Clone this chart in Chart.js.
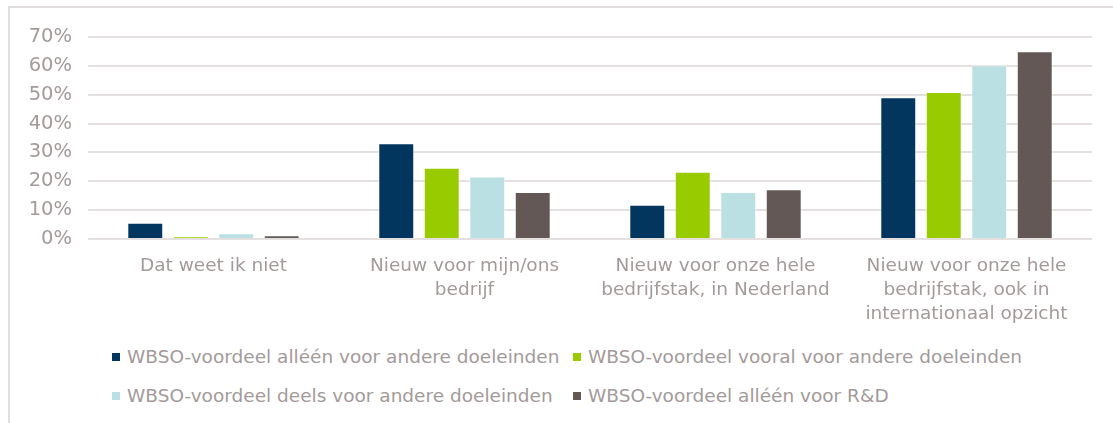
<!DOCTYPE html>
<html lang="nl">
<head>
<meta charset="utf-8">
<title>Nieuwheid van innovaties naar besteding WBSO-voordeel</title>
<script src="https://cdn.jsdelivr.net/npm/chart.js@4.4.1/dist/chart.umd.min.js"></script>
<style>
  html, body { margin: 0; padding: 0; background: #ffffff; overflow: hidden; }
  body { width: 1113px; height: 423px; position: relative; font-family: "DejaVu Sans", Verdana, sans-serif; }
  #frame {
    position: absolute; left: 8px; top: 6px; width: 1200px; height: 500px;
    border-top: 2px solid #e3dfdf; border-left: 2px solid #e3dfdf; box-sizing: border-box;
  }
  #chart { position: absolute; left: 0; top: 0; }
  #legend {
    position: absolute; left: 112px; top: 345px;
    display: grid; grid-template-columns: 461px auto; row-gap: 16px;
    font-size: 18.5px; color: #a39a99; line-height: 23px; white-space: nowrap;
  }
  .item { display: flex; align-items: center; }
  .box { width: 8px; height: 8px; margin-right: 7px; flex: none; }
</style>
</head>
<body>
<div id="frame"></div>
<canvas id="chart" width="1113" height="330"></canvas>
<div id="legend"></div>
<script>
// Categories (multi-line axis labels)
const categories = [
  ["Dat weet ik niet"],
  ["Nieuw voor mijn/ons", "bedrijf"],
  ["Nieuw voor onze hele", "bedrijfstak, in Nederland"],
  ["Nieuw voor onze hele", "bedrijfstak, ook in", "internationaal opzicht"]
];

// Share of respondents (%) per group
const alleenAndere = [5.6, 33.2, 11.9, 49.1];
const vooralAndere = [0.8, 24.7, 23.3, 50.9];
const deelsAndere  = [2.0, 21.7, 16.3, 60.2];
const alleenRD     = [1.3, 16.3, 17.2, 65.1];

const seriesNames = [
  "WBSO-voordeel alléén voor andere doeleinden",
  "WBSO-voordeel vooral voor andere doeleinden",
  "WBSO-voordeel deels voor andere doeleinden",
  "WBSO-voordeel alléén voor R&D"
];
const seriesColors = ["#02365f", "#99cc00", "#bbe0e3", "#635856"];

// Y axis ticks
const yTicks = [0, 10, 20, 30, 40, 50, 60, 70];

const textColor = "#a39a99";
const gridColor = "#e5e0e0";

const seriesValues = [alleenAndere, vooralAndere, deelsAndere, alleenRD];

const chart = new Chart(document.getElementById("chart"), {
  type: "bar",
  data: {
    labels: categories,
    datasets: seriesValues.map((vals, i) => ({
      label: seriesNames[i],
      data: vals,
      backgroundColor: seriesColors[i],
      borderColor: "rgba(255,255,255,0.55)",
      borderWidth: 1,
      categoryPercentage: 0.725,
      barPercentage: 0.79
    }))
  },
  options: {
    responsive: false,
    devicePixelRatio: 1,
    animation: false,
    layout: { padding: { top: 37, right: 21, bottom: 0, left: 0 } },
    plugins: {
      legend: { display: false },
      tooltip: { enabled: false }
    },
    scales: {
      x: {
        grid: { display: false, drawTicks: false },
        border: { display: false },
        ticks: {
          color: textColor,
          padding: 15,
          maxRotation: 0,
          autoSkip: false,
          font: { family: "'DejaVu Sans', Verdana, sans-serif", size: 18.5, lineHeight: 1.3 }
        },
        afterFit(scale) { scale.height = 91; }
      },
      y: {
        min: yTicks[0],
        max: yTicks[yTicks.length - 1],
        afterBuildTicks(scale) { scale.ticks = yTicks.map(v => ({ value: v })); },
        grid: { color: gridColor, lineWidth: 2, drawTicks: false },
        border: { display: false },
        ticks: {
          color: textColor,
          padding: 16,
          font: { family: "'DejaVu Sans', Verdana, sans-serif", size: 19.5 },
          callback: v => v + "%"
        },
        afterFit(scale) { scale.width = 88; }
      }
    }
  }
});

// Legend laid out in two aligned columns
const legendEl = document.getElementById("legend");
chart.data.datasets.forEach(ds => {
  const item = document.createElement("div");
  item.className = "item";
  const box = document.createElement("span");
  box.className = "box";
  box.style.background = ds.backgroundColor;
  const txt = document.createElement("span");
  txt.textContent = ds.label;
  item.appendChild(box);
  item.appendChild(txt);
  legendEl.appendChild(item);
});
</script>
</body>
</html>
